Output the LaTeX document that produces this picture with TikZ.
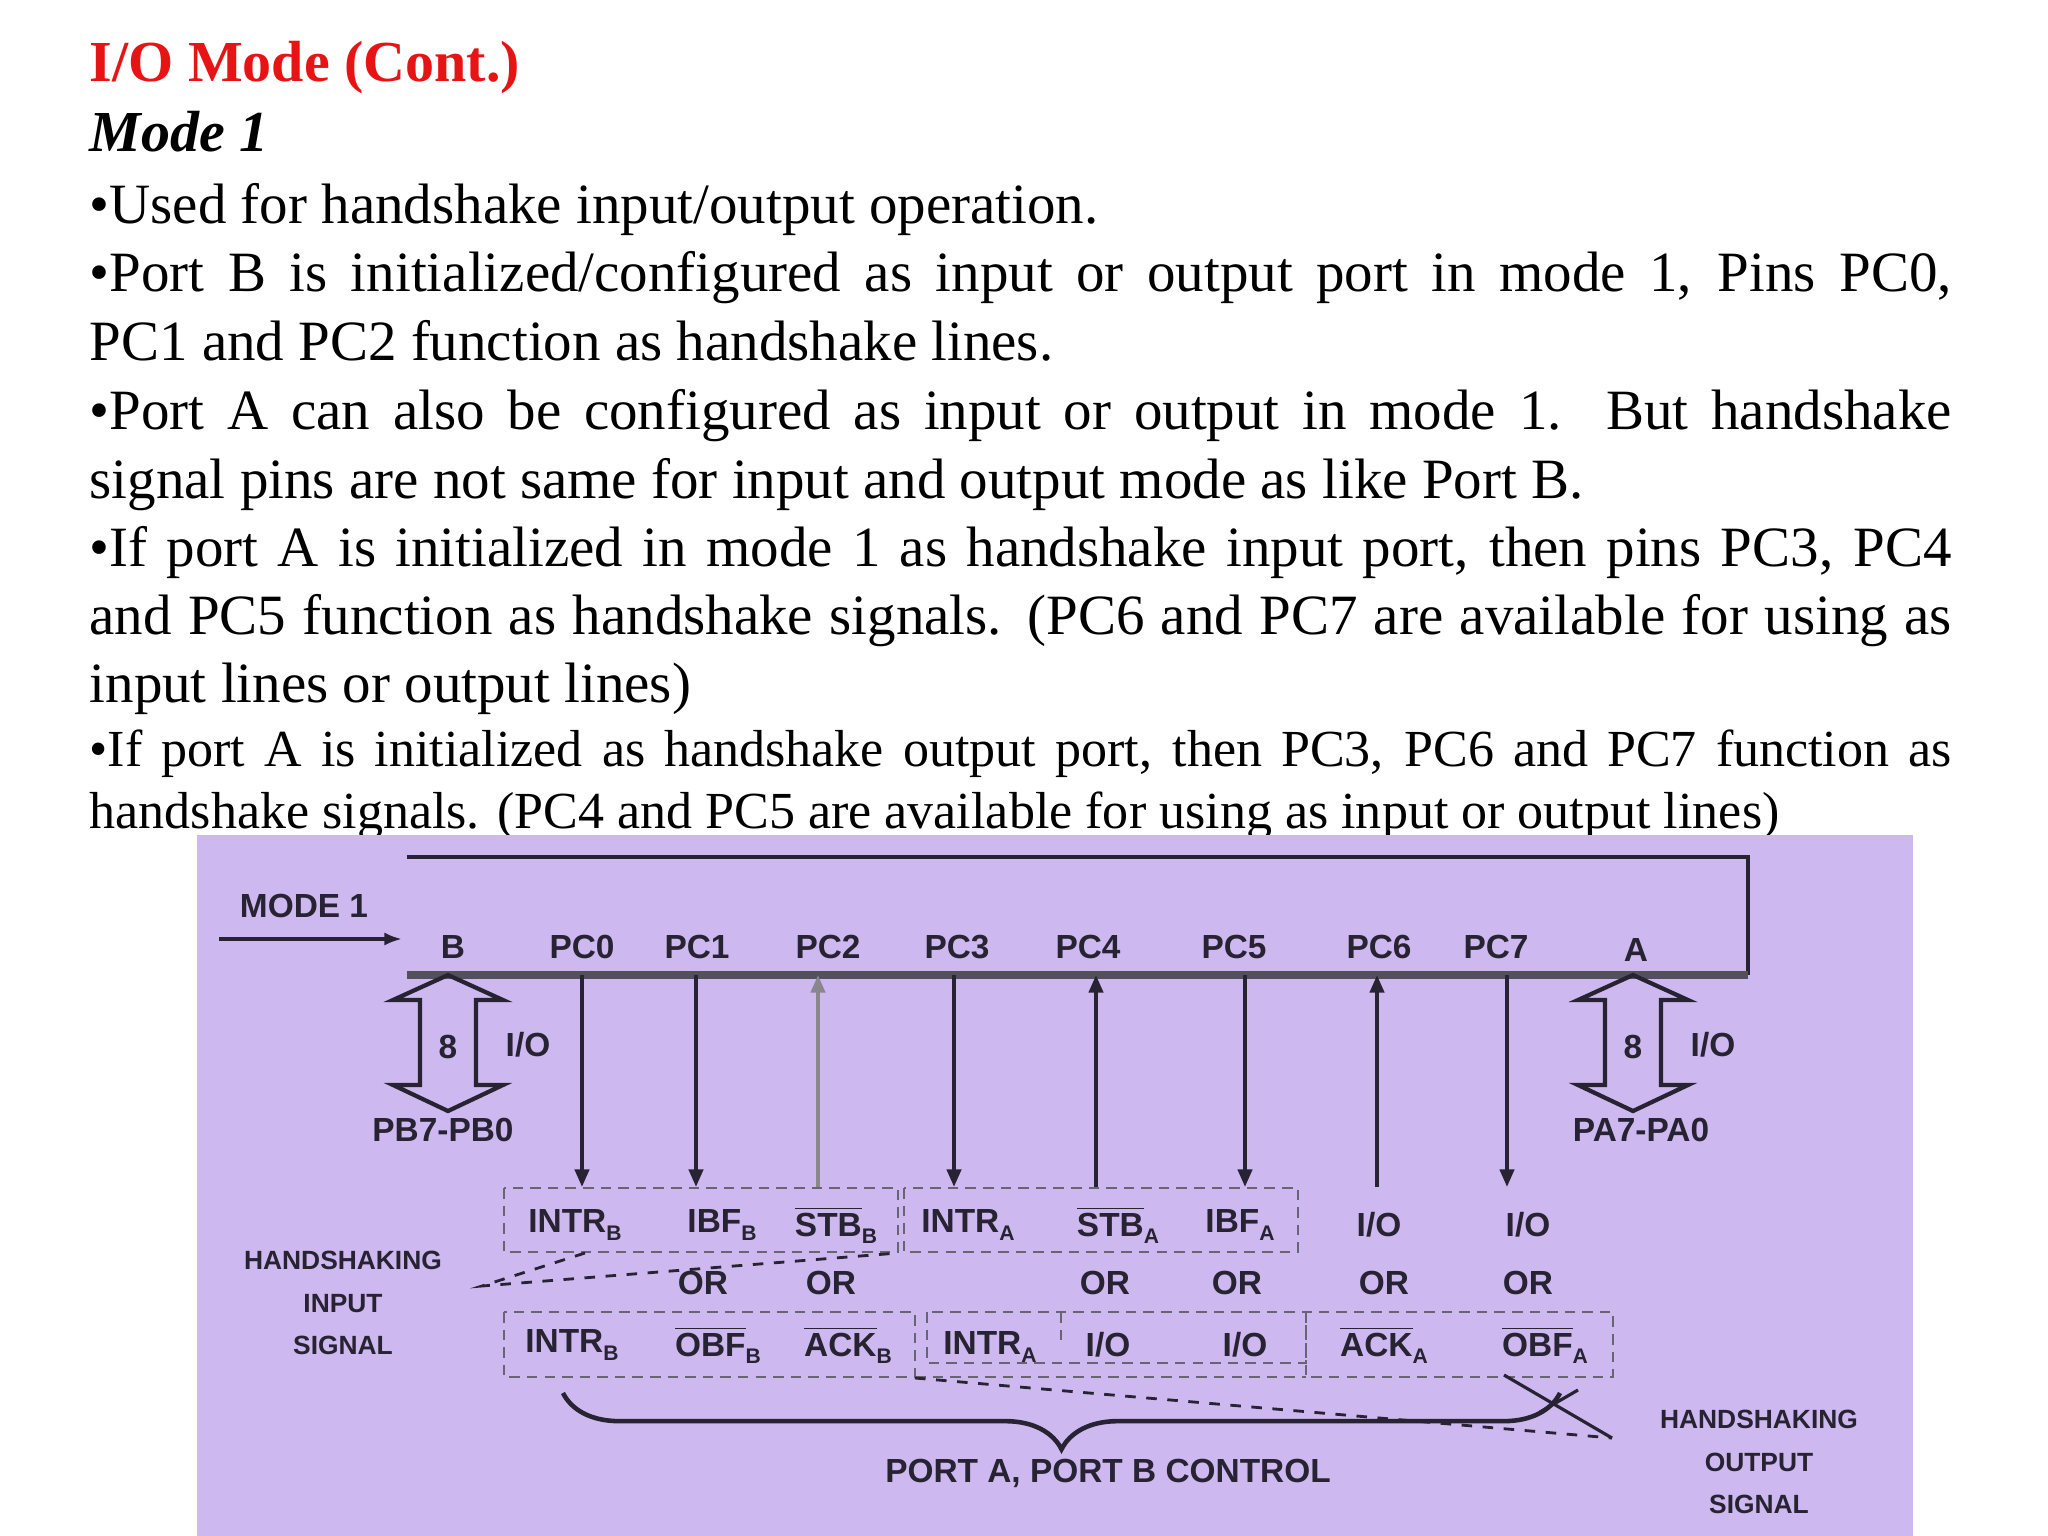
\documentclass[tikz,border=0pt]{standalone}
\usepackage{fontspec}
\setmainfont{Liberation Serif}
\newfontfamily\dsf{Liberation Sans}
\usetikzlibrary{arrows.meta,decorations.pathreplacing}
\definecolor{bgp}{RGB}{206,184,240}
\definecolor{ttl}{RGB}{230,20,20}
\definecolor{ink}{RGB}{40,35,50}
\tikzset{
 body/.style={anchor=base west,inner sep=0pt,font=\fontsize{16.2}{19}\selectfont},
 bodys/.style={anchor=base west,inner sep=0pt,font=\fontsize{14.8}{18}\selectfont},
 lab/.style={inner sep=0pt,font=\dsf\bfseries\fontsize{9.5}{11}\selectfont,text=ink},
 slab/.style={inner sep=0pt,font=\dsf\bfseries\fontsize{7.5}{9}\selectfont,text=ink,align=center},
 sig/.style={line width=1.1pt,draw=ink,-{Triangle[length=5pt,width=4pt]}},
 dbox/.style={draw=ink!70,densely dashed,line width=0.8pt},
 dl/.style={draw=ink,dashed,line width=0.8pt},
}
\newcommand{\jl}[1]{\hbox to 18.61cm{#1}}
\newcommand{\ol}[1]{$\overline{\hbox{#1}}$}
\newcommand{\sbx}[1]{\raisebox{-2pt}{\fontsize{6}{6}\selectfont #1}}
\begin{document}
\begin{tikzpicture}[x=0.01cm,y=-0.01cm]
\useasboundingbox (0,0) rectangle (2048,1536);
\fill[white] (0,0) rectangle (2048,1536);
% text
\node[body,font=\fontsize{16.5}{19}\selectfont\bfseries,text=ttl] (t0) at (89,81) {I/O Mode (Cont.)};
\node[body,font=\fontsize{16.5}{19}\selectfont\bfseries\itshape] (t1) at (89,151) {Mode 1};
\node[body] (t2) at (89,223) {•Used for handshake input/output operation.};
\node[body] (t3) at (89,291) {\jl{•Port B is initialized/configured as input or output port in mode 1, Pins PC0,}};
\node[body] (t4) at (89,360) {PC1 and PC2 function as handshake lines.};
\node[body] (t5) at (89,429) {\jl{•Port A can also be configured as input or output in mode 1. But handshake}};
\node[body] (t6) at (89,498) {signal pins are not same for input and output mode as like Port B.};
\node[body] (t7) at (89,566) {\jl{•If port A is initialized in mode 1 as handshake input port, then pins PC3, PC4}};
\node[body] (t8) at (89,634) {\jl{and PC5 function as handshake signals. (PC6 and PC7 are available for using as}};
\node[body] (t9) at (89,702) {input lines or output lines)};
\node[bodys] (t10) at (89,766) {\jl{•If port A is initialized as handshake output port, then PC3, PC6 and PC7 function as}};
\node[bodys] (t11) at (89,828) {handshake signals. (PC4 and PC5 are available for using as input or output lines)};
% diagram background
\fill[bgp] (197,835) rectangle (1913,1536);
% chip outline and bus
\draw[ink,line width=1.4pt] (407,857) -- (1748,857) -- (1748,975);
\draw[ink!80,line width=2.2pt] (407,975) -- (1748,975);
\node[lab] (mode) at (304,906) {MODE 1};
\coordinate (mst) at (219,939);
\coordinate (men) at (402,939);
\draw[ink,line width=1pt,-{Latex[length=5pt]}] (mst) -- (men);
\node[lab] (B) at (453,947) {B};
\node[lab] (pc0) at (582,947) {PC0};
\node[lab] (pc1) at (697,947) {PC1};
\node[lab] (pc2) at (828,947) {PC2};
\node[lab] (pc3) at (957,947) {PC3};
\node[lab] (pc4) at (1088,947) {PC4};
\node[lab] (pc5) at (1234,947) {PC5};
\node[lab] (pc6) at (1379,947) {PC6};
\node[lab] (pc7) at (1496,947) {PC7};
\node[lab] (A) at (1636,950) {A};
% double arrows
\foreach \cx/\nm in {448/pb,1633/pa}{
 \draw[ink,line width=1.2pt] (\cx,975) -- (\cx+55,1000) -- (\cx+28,1000) -- (\cx+28,1085) -- (\cx+55,1085) -- (\cx,1111) -- (\cx-55,1085) -- (\cx-28,1085) -- (\cx-28,1000) -- (\cx-55,1000) -- cycle;
 \node[lab] (\nm8) at (\cx,1047) {8};
 \node[lab] (\nm io) at (\cx+80,1045) {I/O};
}
\node[lab] (pbn) at (443,1130) {PB7-PB0};
\node[lab] (pan) at (1641,1130) {PA7-PA0};
% boxes
\draw[dbox] (504,1188) rectangle (898,1252);
\draw[dbox] (904,1188) rectangle (1298,1252);
\draw[dbox] (504,1312) rectangle (915,1377);
\draw[dbox] (927,1312) rectangle (1306,1363);
\draw[dbox] (1061,1312) -- (1061,1345);
\draw[dbox] (1306,1312) rectangle (1613,1377);
\draw[dbox] (915,1377) -- (1306,1377);
% row 1 labels
\node[lab] (r1a) at (575,1225) {INTR\sbx{B}};
\node[lab] (r1b) at (722,1225) {IBF\sbx{B}};
\node[lab] (r1c) at (836,1225) {\ol{STB}\sbx{B}};
\node[lab] (r1d) at (968,1225) {INTR\sbx{A}};
\node[lab] (r1e) at (1118,1225) {\ol{STB}\sbx{A}};
\node[lab] (r1f) at (1240,1225) {IBF\sbx{A}};
\node[lab] (r1g) at (1379,1225) {I/O};
\node[lab] (r1h) at (1528,1225) {I/O};
% signal lines
\foreach \n/\x in {p0/582,p1/696,p2/818,p3/954,p4/1096,p5/1245,p6/1377,p7/1507}{
 \coordinate (\n t) at (\x,975); \coordinate (\n b) at (\x,1187);}
\draw[sig] (p0t) -- (p0b);
\draw[sig] (p1t) -- (p1b);
\draw[sig,draw=ink!55] (p2b) -- (p2t);
\draw[sig] (p3t) -- (p3b);
\draw[sig] (p4b) -- (p4t);
\draw[sig] (p5t) -- (p5b);
\draw[sig] (p6b) -- (p6t);
\draw[sig] (p7t) -- (p7b);
% OR
\foreach \x/\n in {703/o1,831/o2,1105/o3,1237/o4,1384/o5,1528/o6}{\node[lab] (\n) at (\x,1283) {OR};}
% row 2
\node[lab] (r2a) at (572,1345) {INTR\sbx{B}};
\node[lab] (r2b) at (718,1345) {\ol{OBF}\sbx{B}};
\node[lab] (r2c) at (848,1345) {\ol{ACK}\sbx{B}};
\node[lab] (r2d) at (990,1347) {INTR\sbx{A}};
\node[lab] (r2e) at (1108,1345) {I/O};
\node[lab] (r2f) at (1245,1345) {I/O};
\node[lab] (r2g) at (1384,1345) {\ol{ACK}\sbx{A}};
\node[lab] (r2h) at (1545,1345) {\ol{OBF}\sbx{A}};
% handshaking input
\node[slab] (hin) at (343,1303) {HANDSHAKING\\[3pt]INPUT\\[3pt]SIGNAL};
\coordinate (hi0) at (482,1286);
\coordinate (hi1) at (585,1253);
\coordinate (hi2) at (898,1253);
\draw[dl] (hi1) -- (hi0) -- (hi2);
% brace
\draw[ink,line width=1.3pt,decorate,decoration={brace,amplitude=16pt,mirror}] (563,1393) -- (1560,1393);
\node[lab] (port) at (1108,1473) {PORT A, PORT B CONTROL};
% handshaking output
\node[slab] (hout) at (1759,1462) {HANDSHAKING\\[3pt]OUTPUT\\[3pt]SIGNAL};
\coordinate (ho0) at (1612,1438);
\coordinate (ho1) at (1504,1375);
\coordinate (ho2) at (915,1378);
\coordinate (ho3) at (1578,1390);
\coordinate (ho4) at (1540,1412);
\draw[ink,line width=0.9pt] (ho1) -- (ho0);
\draw[dl] (ho2) -- (ho0);
\draw[ink,line width=0.9pt] (ho3) -- (ho4);
\end{tikzpicture}
\end{document}
